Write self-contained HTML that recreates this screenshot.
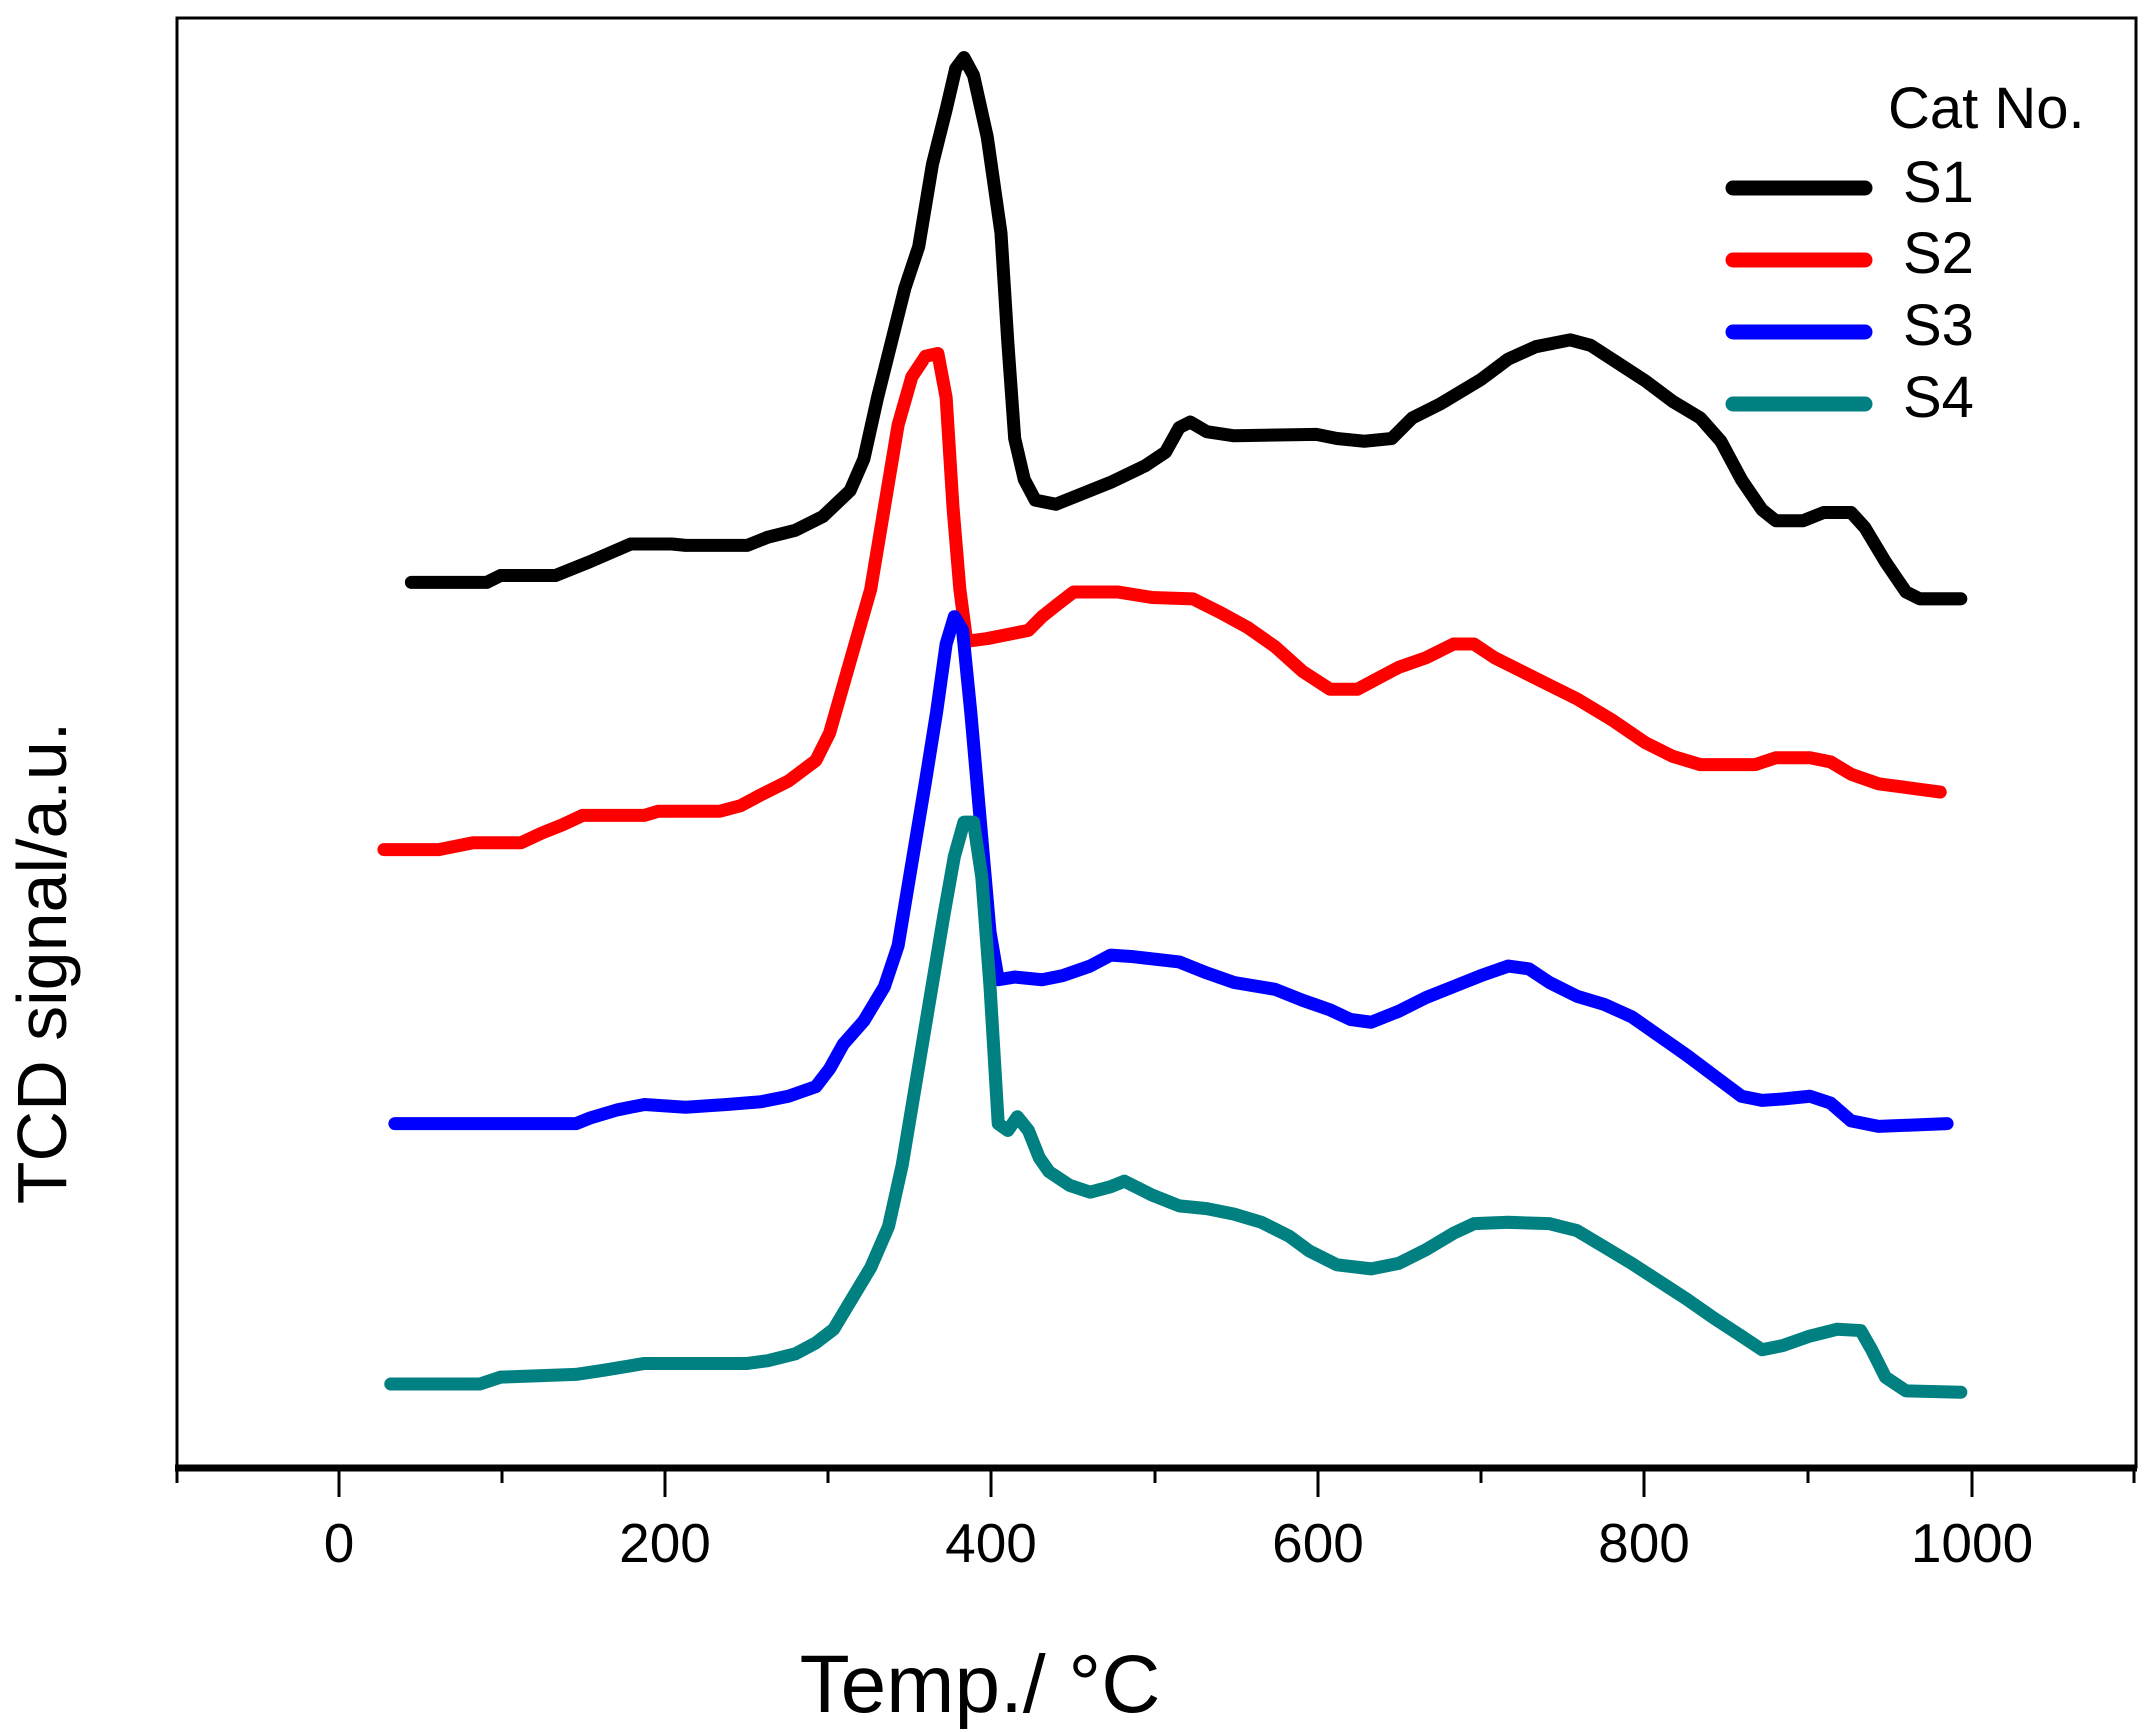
<!DOCTYPE html>
<html><head><meta charset="utf-8"><style>
html,body{margin:0;padding:0;background:#fff;}
svg{display:block;font-family:"Liberation Sans",Arial,sans-serif;}
</style></head><body>
<svg width="2150" height="1732" viewBox="0 0 2150 1732" xmlns="http://www.w3.org/2000/svg">
<rect width="2150" height="1732" fill="#fff"/>
<rect x="177" y="18" width="1959" height="1449" fill="none" stroke="#000" stroke-width="3"/>
<line x1="175" y1="1468" x2="2137" y2="1468" stroke="#000" stroke-width="7"/>
<g stroke="#000" stroke-width="3">
<line x1="177" y1="1468" x2="177" y2="1483"/>
<line x1="339" y1="1468" x2="339" y2="1497"/>
<line x1="502" y1="1468" x2="502" y2="1483"/>
<line x1="665" y1="1468" x2="665" y2="1497"/>
<line x1="828" y1="1468" x2="828" y2="1483"/>
<line x1="991" y1="1468" x2="991" y2="1497"/>
<line x1="1155" y1="1468" x2="1155" y2="1483"/>
<line x1="1318" y1="1468" x2="1318" y2="1497"/>
<line x1="1481" y1="1468" x2="1481" y2="1483"/>
<line x1="1644" y1="1468" x2="1644" y2="1497"/>
<line x1="1808" y1="1468" x2="1808" y2="1483"/>
<line x1="1972" y1="1468" x2="1972" y2="1497"/>
<line x1="2134" y1="1468" x2="2134" y2="1483"/>
</g>
<g font-size="55" text-anchor="middle" fill="#000">
<text x="339" y="1562">0</text>
<text x="665" y="1562">200</text>
<text x="991" y="1562">400</text>
<text x="1318" y="1562">600</text>
<text x="1644" y="1562">800</text>
<text x="1972" y="1562">1000</text>
</g>
<text x="980" y="1712" font-size="82" text-anchor="middle">Temp./ °C</text>
<text transform="translate(66,963) rotate(-90)" font-size="70" text-anchor="middle">TCD signal/a.u.</text>
<text x="1888" y="128" font-size="58">Cat No.</text>
<g font-size="58">
<text x="1903" y="202">S1</text>
<text x="1903" y="273">S2</text>
<text x="1903" y="345">S3</text>
<text x="1903" y="417">S4</text>
</g>
<g stroke-width="15" stroke-linecap="round">
<line x1="1733" y1="188" x2="1865" y2="188" stroke="#000"/>
<line x1="1733" y1="260" x2="1865" y2="260" stroke="#ff0000"/>
<line x1="1733" y1="332" x2="1865" y2="332" stroke="#0000ff"/>
<line x1="1733" y1="404" x2="1865" y2="404" stroke="#008080"/>
</g>
<g transform="scale(1.3712,1.3703)" fill="none" stroke-width="9.5" stroke-linejoin="round" stroke-linecap="round">
<polyline stroke="#000" points="300,425 355,425 365,420 405,420 430,410 460,397 490,397 500,398 545,398 560,392 580,387 600,377 620,358 630,335 640,290 650,250 660,210 670,180 680,120 690,80 697,50 703,42 710,55 720,100 730,170 735,250 740,320 747,350 755,365 770,368 790,360 810,352 835,340 850,330 860,312 868,308 880,315 900,318 960,317 975,320 995,322 1015,320 1030,305 1050,295 1080,277 1100,262 1120,253 1145,248 1160,252 1180,265 1200,278 1220,293 1240,305 1255,322 1270,350 1285,372 1295,380 1315,380 1330,374 1350,374 1360,385 1375,410 1390,432 1400,437 1430,437"/>
<polyline stroke="#ff0000" points="280,620 320,620 345,615 380,615 395,608 410,602 425,595 470,595 480,592 525,592 540,588 555,580 575,570 595,555 605,535 615,500 625,465 635,430 645,370 655,310 665,275 675,260 684,258 690,290 695,370 700,430 705,468 720,466 740,462 750,460 760,450 770,442 783,432 815,432 840,436 870,437 890,447 910,458 930,472 950,490 970,503 990,503 1005,495 1020,487 1040,480 1060,470 1075,470 1090,480 1110,490 1130,500 1150,510 1175,525 1200,542 1220,552 1240,558 1280,558 1295,553 1320,553 1335,556 1350,565 1370,572 1400,576 1415,578"/>
<polyline stroke="#0000ff" points="288,820 420,820 430,816 450,810 470,806 500,808 530,806 555,804 575,800 595,793 605,780 615,762 630,745 645,720 655,690 665,630 675,570 683,520 690,470 696,450 702,460 708,520 715,600 722,680 728,715 740,713 760,715 775,712 795,705 810,697 825,698 860,702 880,710 900,717 930,722 950,730 970,737 985,744 1000,746 1020,738 1040,728 1060,720 1080,712 1100,705 1115,707 1130,717 1150,727 1170,733 1190,742 1210,756 1230,770 1250,785 1270,800 1285,803 1300,802 1320,800 1335,805 1350,818 1370,822 1420,820"/>
<polyline stroke="#008080" points="285,1010 350,1010 365,1005 420,1003 440,1000 470,995 545,995 560,993 580,988 595,980 608,970 620,950 635,925 648,895 658,850 668,790 678,730 688,670 696,625 703,600 710,600 716,640 722,720 728,820 735,825 742,815 750,825 758,845 765,855 780,865 795,870 810,866 820,862 840,872 860,880 880,882 900,886 920,892 940,902 955,913 975,923 1000,926 1020,922 1040,912 1060,900 1075,893 1100,892 1130,893 1150,898 1170,910 1190,922 1210,935 1230,948 1250,962 1270,975 1285,985 1300,982 1320,975 1340,970 1357,971 1365,985 1375,1005 1390,1015 1430,1016"/>
</g>
</svg>
</body></html>
